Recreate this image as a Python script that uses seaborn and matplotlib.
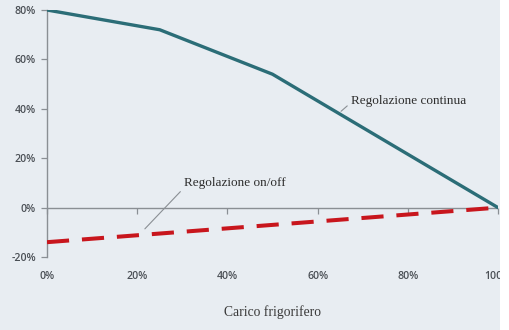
import numpy as np
import pandas as pd
import seaborn as sns
import matplotlib.pyplot as plt
from matplotlib.patches import Rectangle
from matplotlib.ticker import FuncFormatter

# Refrigeration load (%) and relative efficiency change (%)
carico = [0, 25, 50, 75, 100]
continua = [80, 72, 54, 27, 0]
on_off = [-14, -10.5, -7, -3.5, 0]
x_ticks = [0, 20, 40, 60, 80, 100]
y_ticks = [-20, 0, 20, 40, 60, 80]

df = pd.DataFrame({
    "carico": carico * 2,
    "valore": continua + on_off,
    "serie": ["Regolazione continua"] * len(carico) + ["Regolazione on/off"] * len(carico),
})

sns.set_theme(style="white")
bg = "#e8edf2"
fig = plt.figure(figsize=(5.1, 3.3), dpi=100, facecolor="white")
fig.patches.append(Rectangle((0, 0), 500 / 510, 1, transform=fig.transFigure,
                             facecolor=bg, edgecolor="none", zorder=-1))
ax = fig.add_axes([47 / 510, 1 - 257 / 330, 451 / 510, 247 / 330])
ax.set_facecolor(bg)

palette = {"Regolazione continua": "#2b6d77", "Regolazione on/off": "#c8161d"}
sns.lineplot(data=df, x="carico", y="valore", hue="serie", palette=palette,
             ax=ax, legend=False, linewidth=2.4, zorder=3)
red_line = ax.lines[1]
red_line.set_dashes([5.5, 3.2])
red_line.set_linewidth(2.9)

ax.set_xlim(0, 100)
ax.set_ylim(-20, 80)
ax.axhline(0, color="#8a8f94", linewidth=1.0, zorder=2)

pct = FuncFormatter(lambda v, _: f"{v:.0f}%")
ax.set_xticks(x_ticks)
ax.set_yticks(y_ticks)
ax.xaxis.set_major_formatter(pct)
ax.yaxis.set_major_formatter(pct)
for lab in ax.get_xticklabels() + ax.get_yticklabels():
    lab.set_fontfamily("Open Sans")
    lab.set_fontweight("semibold")
    lab.set_fontsize(7.6)
    lab.set_color("#4a4f55")
ax.tick_params(axis="x", length=0, pad=10)
ax.tick_params(axis="y", length=4, width=0.9, color="#8a8f94", pad=4, left=True)

for side in ["top", "right", "bottom"]:
    ax.spines[side].set_visible(False)
ax.spines["left"].set_color("#8a8f94")
ax.spines["left"].set_linewidth(1.0)

# tick marks on the zero line
sec = ax.secondary_xaxis(0.2)
sec.set_xticks(x_ticks)
sec.tick_params(axis="x", length=4, width=0.9, color="#8a8f94", labelbottom=False, direction="out")
sec.spines["bottom"].set_visible(False)

ax.set_xlabel("Carico frigorifero", family="Liberation Serif", size=9.8, color="#3a3a3a", labelpad=17)
ax.set_ylabel("")

ann = dict(family="Liberation Serif", size=9.5, color="#2e2e2e")
ax.annotate("Regolazione continua", xy=(65.2, 39.0), xytext=(67.3, 43.3),
            ha="left", va="center", **ann,
            arrowprops=dict(arrowstyle="-", color="#8a8f94", lw=0.8,
                            shrinkA=0, shrinkB=0, relpos=(0, 0.3)))
ax.annotate("Regolazione on/off", xy=(21.7, -8.6), xytext=(30.3, 9.8),
            ha="left", va="center", **ann,
            arrowprops=dict(arrowstyle="-", color="#8a8f94", lw=0.8,
                            shrinkA=0, shrinkB=0, relpos=(0, 0.1)))

# white strip at the right edge, drawn above the axes
fig.patches.append(Rectangle((500 / 510, 0), 10 / 510, 1, transform=fig.transFigure,
                             facecolor="white", edgecolor="none", zorder=10))

fig.savefig("out.png", dpi=100, facecolor="white")
